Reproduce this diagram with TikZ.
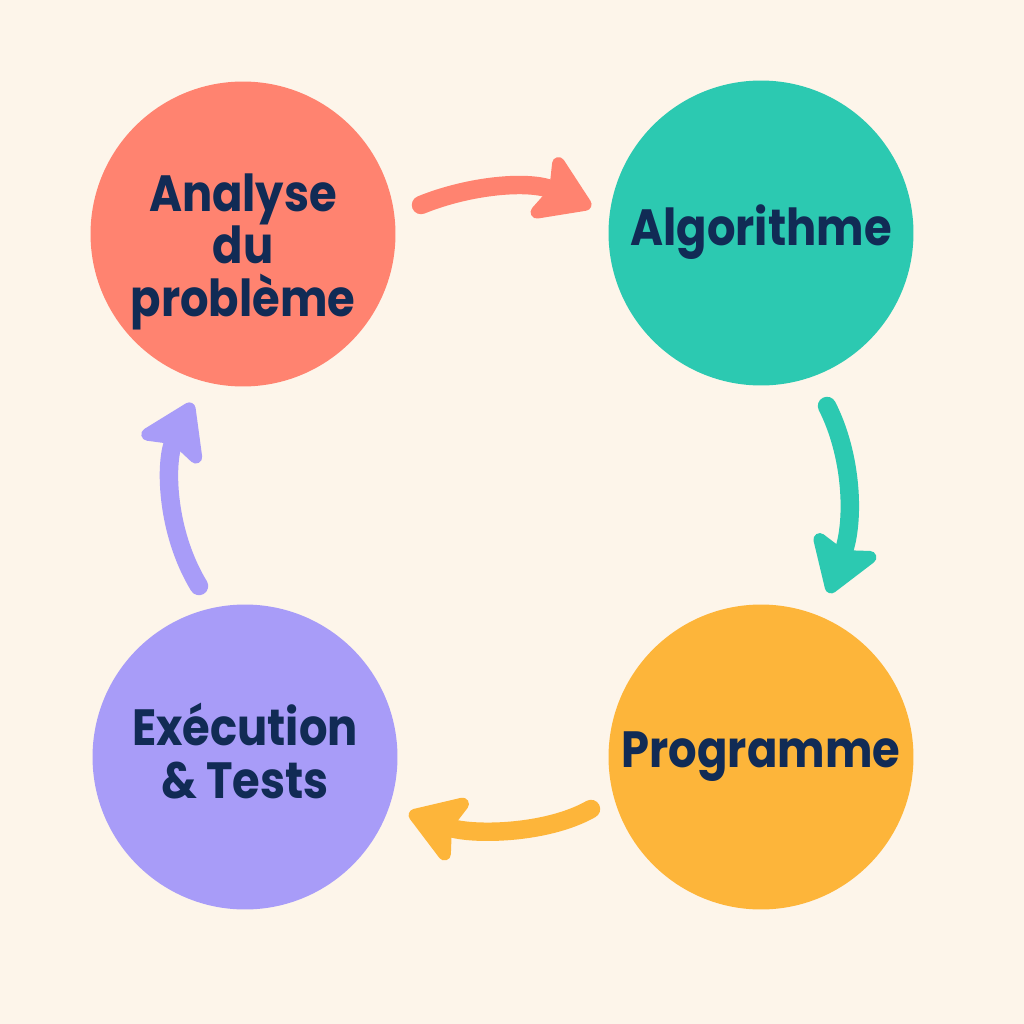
\documentclass[tikz,border=0pt]{standalone}
\usepackage{fontspec}
\setmainfont[FakeStretch=0.88]{Poppins}
\usetikzlibrary{arrows.meta}
\definecolor{bg}{HTML}{FDF5EA}
\definecolor{cred}{HTML}{FF8370}
\definecolor{cteal}{HTML}{2CC9B1}
\definecolor{cyel}{HTML}{FDB53A}
\definecolor{cpur}{HTML}{A89CF8}
\definecolor{ink}{HTML}{112B55}
\tikzset{
  stage/.style={circle, minimum size=6.1cm, inner sep=0pt},
  stagetext/.style={align=center, inner sep=0pt, text=ink,
    font=\fontsize{29}{29.8}\selectfont\bfseries},
  flow/.style={line width=10.5pt, line cap=round,
    -{Stealth[length=36pt, width=46pt, inset=7pt, round]}},
}
\begin{document}
\begin{tikzpicture}[x=0.02cm, y=-0.02cm]
\fill[bg] (0,0) rectangle (1024,1024);
\useasboundingbox (0,0) rectangle (1024,1024);
\node[stage, fill=cred] (ana) at (243,234) {};
\node[stage, fill=cteal] (alg) at (761,233) {};
\node[stage, fill=cyel] (prg) at (761,757) {};
\node[stage, fill=cpur] (exe) at (245,757) {};
\node[stagetext] (anat) at ([yshift=-10pt]ana.center) {Analyse\\du\\problème};
\node[stagetext] (algt) at ([yshift=0.5pt]alg.center) {Algorithme};
\node[stagetext] (prgt) at (prg.center) {Programme};
\node[stagetext] (exet) at ([yshift=3.5pt]exe.center) {Exécution\\\& Tests};
\coordinate (r1) at (421,205); \coordinate (r2) at (591,207);
\coordinate (t1) at (827,406); \coordinate (t2) at (829,593);
\coordinate (y1) at (591,809); \coordinate (y2) at (409,813);
\coordinate (p1) at (199,586); \coordinate (p2) at (192,403);
\draw[flow, cred] (r1) .. controls (470,185) and (530,180) .. (r2);
\draw[flow, cteal] (t1) .. controls (852,455) and (855,520) .. (t2);
\draw[flow, cyel] (y1) .. controls (545,835) and (470,835) .. (y2);
\draw[flow, cpur] (p1) .. controls (165,530) and (165,460) .. (p2);
\end{tikzpicture}
\end{document}
